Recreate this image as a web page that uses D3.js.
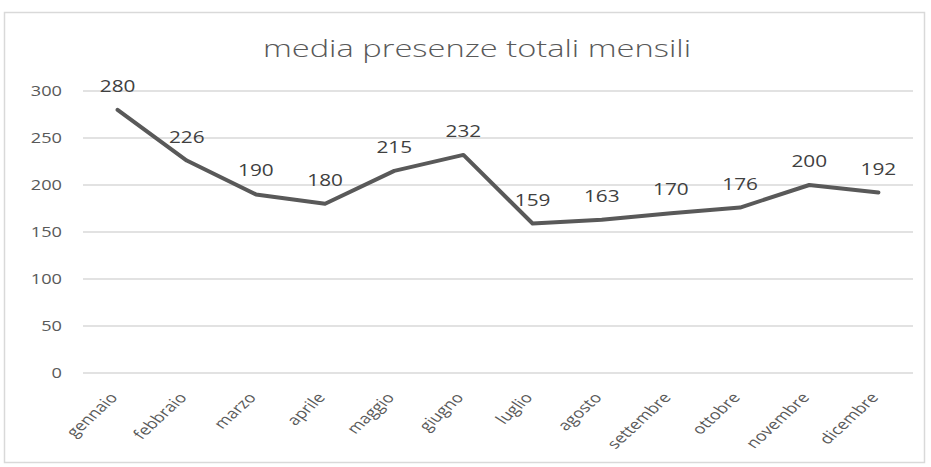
<!DOCTYPE html>
<html>
<head>
<meta charset="utf-8">
<script src="https://cdnjs.cloudflare.com/ajax/libs/d3/7.8.5/d3.min.js"></script>
<style>
  body { margin: 0; background: #fff; }
  text { fill: #595959; font-family: "Open Sans", sans-serif; }
</style>
</head>
<body>
<div id="chart"></div>
<script>
var width = 931,
    height = 467;

var months = ['gennaio','febbraio','marzo','aprile','maggio','giugno','luglio','agosto','settembre','ottobre','novembre','dicembre'];
var presenze = [280, 226, 190, 180, 215, 232, 159, 163, 170, 176, 200, 192];
var yTicks = [0, 50, 100, 150, 200, 250, 300];
var title = 'media presenze totali mensili';

var margin = {left: 83, right: 18, top: 91, bottom: 94};
// the original picture is stretched sideways, so text gets a horizontal scale
var sx = 1.3;

var svg = d3.select('#chart').append('svg')
    .attr('width', width)
    .attr('height', height);

// chart border
svg.append('rect')
    .attr('x', 4.5)
    .attr('y', 12.5)
    .attr('width', 920)
    .attr('height', 450)
    .style('fill', 'none')
    .style('stroke', '#d9d9d9')
    .style('stroke-width', 1.5);

svg.append('text')
    .attr('transform', 'translate(477,57) scale(1.42,1)')
    .attr('text-anchor', 'middle')
    .style('font-size', '23px')
    .style('font-weight', 300)
    .text(title);

var x = d3.scaleBand()
    .domain(months)
    .range([margin.left, width - margin.right]);

var y = d3.scaleLinear()
    .domain([0, 300])
    .range([height - margin.bottom, margin.top]);

// gridlines
svg.append('g')
    .selectAll('line')
    .data(yTicks)
    .enter()
    .append('line')
    .attr('x1', margin.left)
    .attr('x2', width - margin.right)
    .attr('y1', function(d) { return y(d); })
    .attr('y2', function(d) { return y(d); })
    .style('stroke', '#d9d9d9')
    .style('stroke-width', 1.5);

// y labels
svg.append('g')
    .selectAll('text')
    .data(yTicks)
    .enter()
    .append('text')
    .attr('transform', function(d) { return 'translate(62,' + y(d) + ') scale(' + sx + ',1)'; })
    .attr('dy', '0.36em')
    .attr('text-anchor', 'end')
    .style('font-size', '14px')
    .text(function(d) { return d; });

// x labels
svg.append('g')
    .selectAll('text')
    .data(months)
    .enter()
    .append('text')
    .attr('transform', function(d) {
        return 'translate(' + (x(d) + x.bandwidth() / 2 + 1) + ',' + (y(0) + 25) + ') scale(' + sx + ',1) rotate(-50)';
    })
    .attr('text-anchor', 'end')
    .style('font-size', '14px')
    .text(function(d) { return d; });

var line = d3.line()
    .x(function(d, i) { return x(months[i]) + x.bandwidth() / 2; })
    .y(function(d) { return y(d); });

svg.append('path')
    .datum(presenze)
    .attr('d', line)
    .style('fill', 'none')
    .style('stroke', '#595959')
    .style('stroke-width', 4)
    .style('stroke-linejoin', 'round')
    .style('stroke-linecap', 'round');

// data labels
svg.append('g')
    .selectAll('text')
    .data(presenze)
    .enter()
    .append('text')
    .attr('transform', function(d, i) {
        return 'translate(' + (x(months[i]) + x.bandwidth() / 2) + ',' + (y(d) - 18) + ') scale(' + sx + ',1)';
    })
    .attr('text-anchor', 'middle')
    .style('font-size', '16px')
    .style('fill', '#404040')
    .text(function(d) { return d; });
</script>
</body>
</html>
